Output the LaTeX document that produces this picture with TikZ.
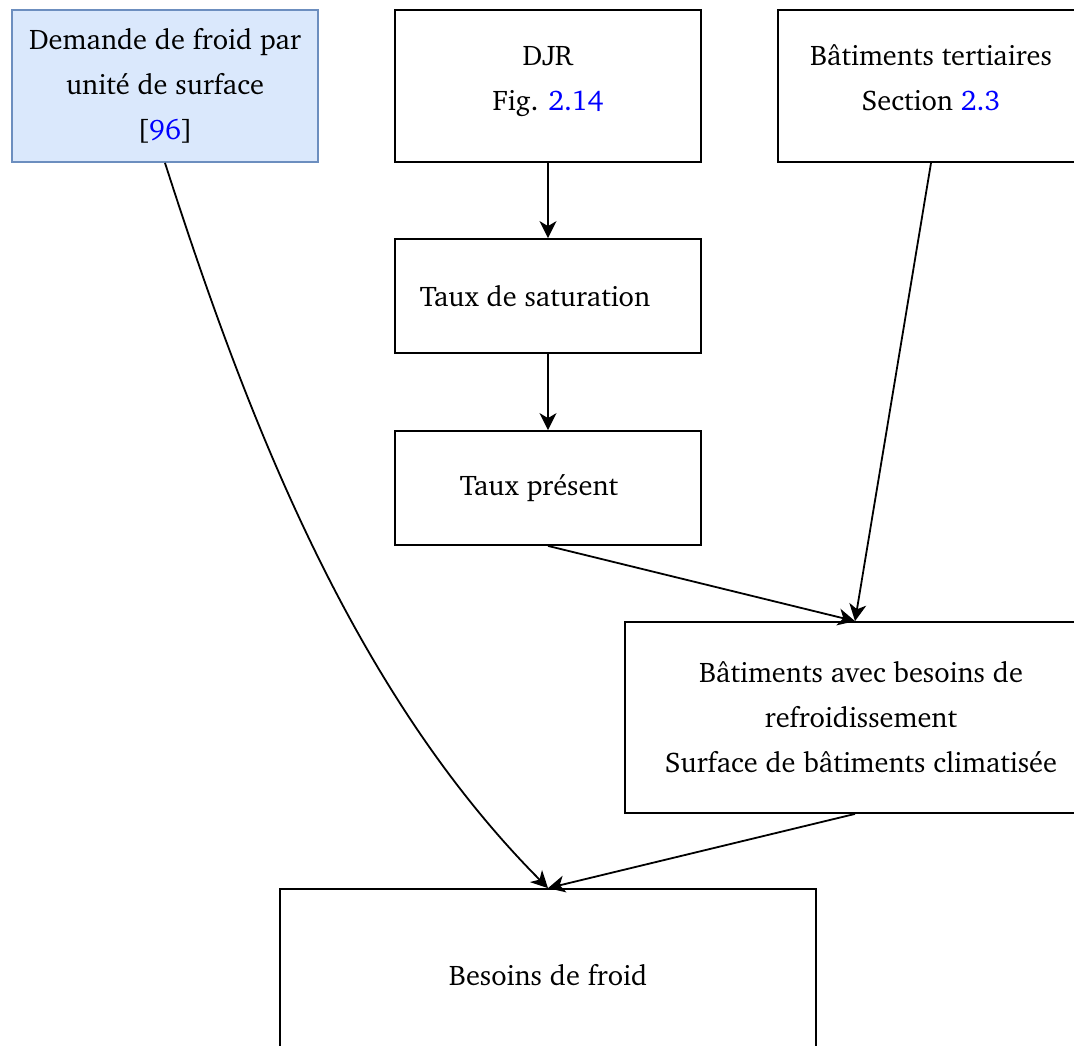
\documentclass[tikz,border=0pt]{standalone}
\usepackage[T1]{fontenc}
\usepackage{charter}
\usetikzlibrary{arrows.meta}
\definecolor{fondBleu}{HTML}{DAE8FC}
\definecolor{bordBleu}{HTML}{6C8EBF}
\definecolor{lien}{RGB}{0,0,255}
\newcommand{\renvoi}[1]{\textcolor{lien}{#1}}
\tikzset{
  boite/.style={draw,rectangle,inner sep=0pt,align=center},
  haute/.style={boite,minimum width=153pt,minimum height=76pt},
  basse/.style={boite,minimum width=153pt,minimum height=57pt},
  fleche/.style={-{Stealth[length=8.5pt,width=8.5pt,inset=2.5pt]}}
}
\begin{document}
\begin{tikzpicture}[x=0.5pt,y=-0.5pt,line width=0.9pt,
                    every node/.style={font=\fontsize{14.2pt}{22.5pt}\selectfont}]
% ---- canvas (px of the source, y downwards) ----
\useasboundingbox (0,0) rectangle (1074,1045);
% ---- top row ----
\node[haute,fill=fondBleu,draw=bordBleu] (demande) at (165,86)
  {Demande de froid par\\unité de surface\\{[}\renvoi{96}{]}};
\node[haute] (djr)  at (548,86) {DJR\\Fig. \renvoi{2.14}\vspace*{5pt}};
\node[haute] (tert) at (931,86) {Bâtiments tertiaires\\Section \renvoi{2.3}\vspace*{8pt}};
% ---- middle column ----
\node[basse] (sat)  at (548,296) {Taux de saturation\hspace*{13pt}};
\node[basse] (pres) at (548,488) {Taux présent\hspace*{9pt}};
\node[boite,minimum width=236pt,minimum height=95.5pt] (bat) at (861,717.5)
  {Bâtiments avec besoins de\\refroidissement\\Surface de bâtiments climatisée};
% ---- result ----
\node[boite,minimum width=268pt,minimum height=86pt] (besoins) at (548,975) {Besoins de froid};
% ---- liens ----
\draw[fleche] (djr.south) -- (sat.north);
\draw[fleche] (sat.south) -- (pres.north);
\draw[fleche] (pres.south) -- ([xshift=-3pt]bat.north);
\draw[fleche] (tert.south) -- ([xshift=-3pt]bat.north);
\draw[fleche] ([xshift=-3pt]bat.south) -- (besoins.north);
\draw[fleche] (demande.south) .. controls (245,412) and (350,689) .. (besoins.north);
\end{tikzpicture}
\end{document}
